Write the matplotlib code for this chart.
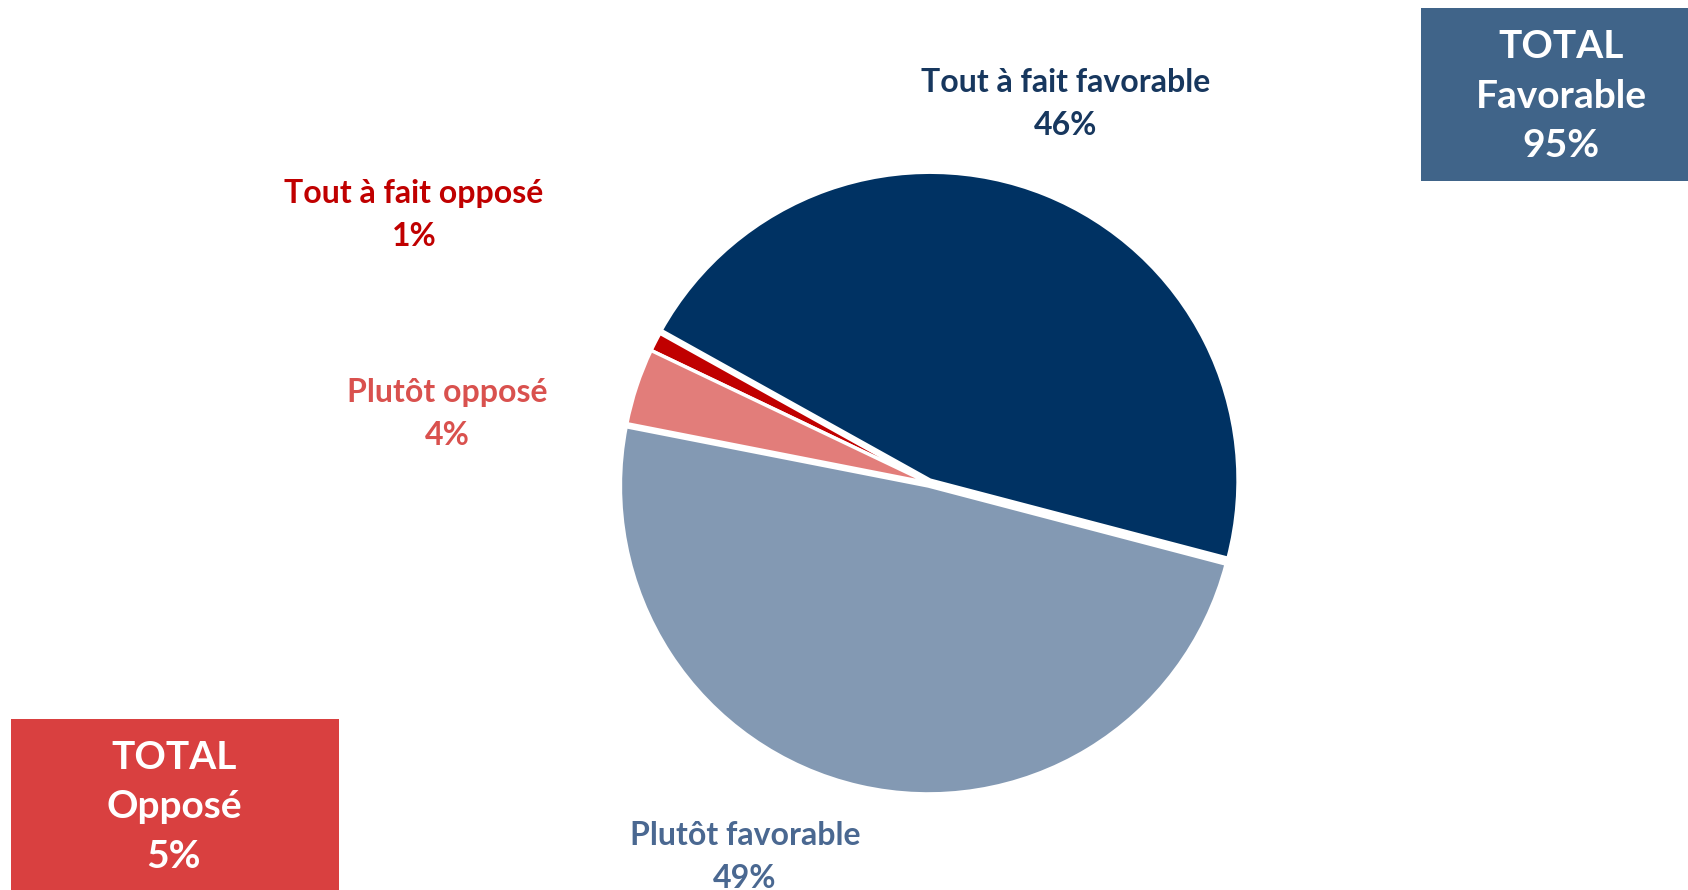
"""Pie chart: Tout à fait favorable / Plutôt favorable / Plutôt opposé / Tout à fait opposé."""

import matplotlib.pyplot as plt
from matplotlib.patches import Rectangle

# data
categories = ["Tout à fait favorable", "Tout à fait opposé", "Plutôt opposé", "Plutôt favorable"]
values = [46, 1, 4, 49]
slice_colors = ["#003263", "#C00000", "#E27D7A", "#8399B3"]
label_colors = ["#17375E", "#C00000", "#D9514E", "#4A6891"]
total_labels = ["TOTAL\nFavorable", "TOTAL\nOpposé"]
total_values = [95, 5]

W, H = 1688, 890
plt.rcParams["font.family"] = ["Lato", "DejaVu Sans"]

fig = plt.figure(figsize=(W / 100, H / 100), dpi=100)
fig.patch.set_facecolor("white")

# pie axes: centre (929, 483) px, radius ~310 px
cx, cy, r = 929, 483, 311
ax = fig.add_axes([(cx - r) / W, (H - cy - r) / H, 2 * r / W, 2 * r / H])
ax.pie(
    values,
    colors=slice_colors,
    startangle=-14.7,
    counterclock=True,
    explode=[0.01, 0, 0, 0.01],
    wedgeprops=dict(edgecolor="white", linewidth=2.5),
)
ax.set_xlim(-1.01, 1.01)
ax.set_ylim(-1.01, 1.01)
ax.set_aspect("equal")
ax.axis("off")

# slice labels (pixel positions of the label centres)
label_pos = [(1066, 104), (414, 215), (447, 414), (745, 857)]
for name, val, col, (x, y) in zip(categories, values, label_colors, label_pos):
    fig.text(x / W, 1 - y / H, f"{name}\n{val}%", color=col, fontsize=23,
             fontweight="bold", ha="center", va="center", linespacing=1.55)

# total boxes
box_rects = [(1421, 8, 267, 173), (11, 719, 328, 171)]
box_colors = ["#406489", "#D94040"]
box_text_pos = [(1561, 96), (174, 807)]
for (bx, by, bw, bh), fc, (tx, ty), lab, tv in zip(
        box_rects, box_colors, box_text_pos, total_labels, total_values):
    fig.add_artist(Rectangle((bx / W, 1 - (by + bh) / H), bw / W, bh / H,
                             transform=fig.transFigure, facecolor=fc,
                             edgecolor="none"))
    fig.text(tx / W, 1 - ty / H, f"{lab}\n{tv}%", color="white", fontsize=28,
             fontweight="bold", ha="center", va="center", linespacing=1.5)

fig.savefig("out.png", dpi=100)
